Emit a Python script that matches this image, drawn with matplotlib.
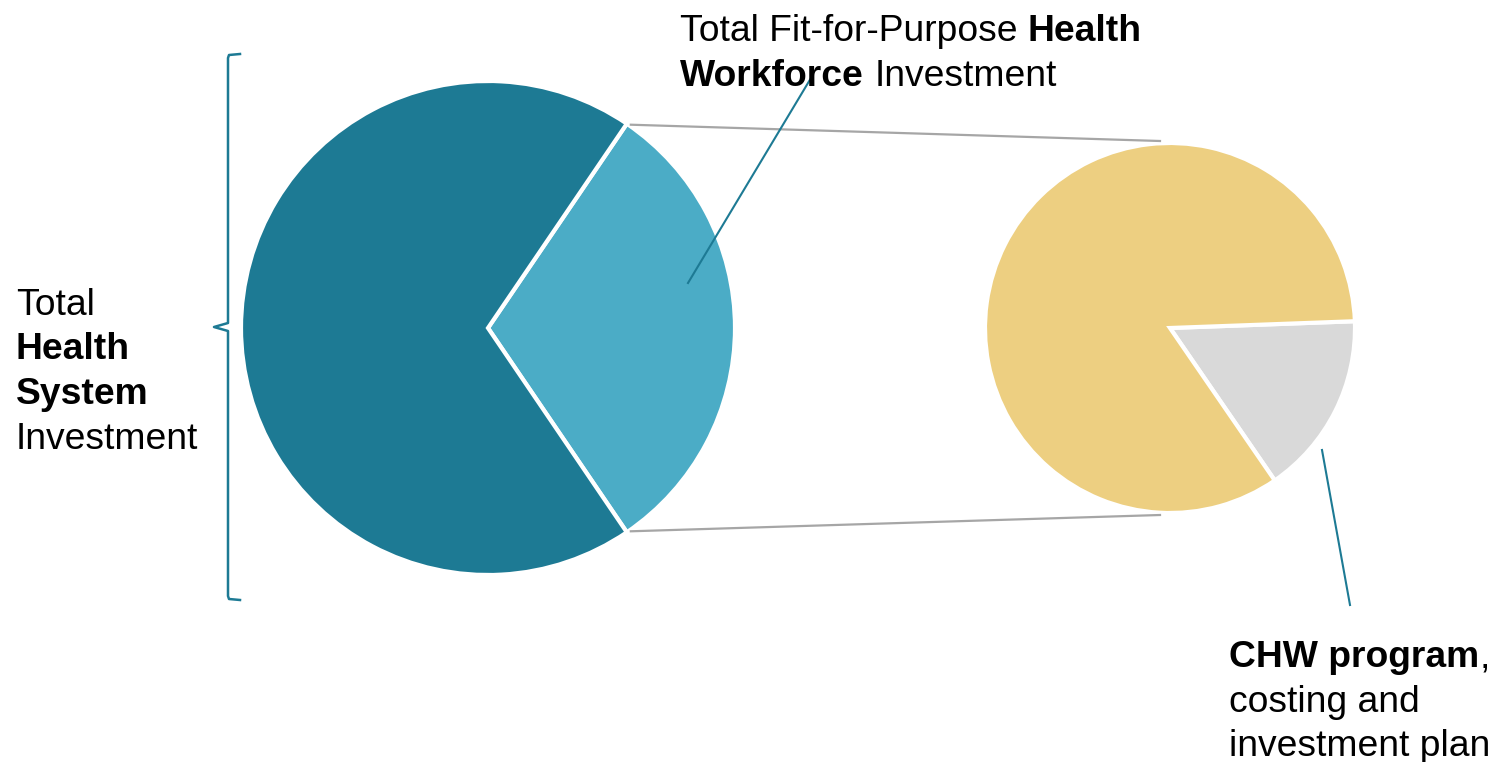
import numpy as np
import matplotlib
matplotlib.use("Agg")
from matplotlib import pyplot as plt

plt.rcParams["font.family"] = ["Liberation Sans", "DejaVu Sans"]

# Shares of total health system investment (%)
system_parts = ["Health Workforce", "Rest of Health System"]
system_shares = [31, 69]

# Shares within health workforce investment (%)
workforce_parts = ["CHW program", "Rest of Health Workforce"]
workforce_shares = [16, 84]

W, H = 1495, 762
TEAL = "#1D7A94"
LIGHT_TEAL = "#4BACC6"
GOLD = "#EDCF81"
GREY = "#D9D9D9"
FS = 26.8


def yy(y):
    # pixel rows counted from the top
    return H - y


fig = plt.figure(figsize=(W / 100, H / 100), dpi=100)
ax = fig.add_axes([0, 0, 1, 1])

big_c, big_r = (488, yy(328)), 247
small_c, small_r = (1170, yy(328)), 185

wedge_style = dict(edgecolor="white", linewidth=3)
big_start = -system_shares[0] / 100 * 180
big_wedges, _ = ax.pie(system_shares, colors=[LIGHT_TEAL, TEAL], startangle=big_start,
                       center=big_c, radius=big_r, wedgeprops=wedge_style)
small_wedges, _ = ax.pie(workforce_shares, colors=[GREY, GOLD], startangle=-55.5,
                         center=small_c, radius=small_r, wedgeprops=wedge_style)

ax.set_xlim(0, W)
ax.set_ylim(0, H)
ax.set_aspect("equal")
ax.axis("off")

# Zoom lines from the workforce slice to the second pie
a = np.deg2rad(-big_start)
cx = big_c[0] + big_r * np.cos(a) + 4
dy = big_r * np.sin(a)
ax.plot([cx, small_c[0] - 10], [big_c[1] + dy - 1, small_c[1] + small_r + 2], color="#A6A6A6", lw=1.6)
ax.plot([cx, small_c[0] - 10], [big_c[1] - dy + 1, small_c[1] - small_r - 2], color="#A6A6A6", lw=1.6)

# Callout lines
ax.plot([811, 688], [yy(78), yy(283)], color=TEAL, lw=1.5)
ax.plot([1322, 1350], [yy(450), yy(605)], color=TEAL, lw=1.5)

# Brace on the left
bx = [240, 229, 228, 228, 214, 228, 228, 229, 240]
by = [54, 55, 58, 323, 327, 331, 596, 599, 600]
ax.plot(bx, [yy(v) for v in by], color=TEAL, lw=1.8, solid_joinstyle="round")

renderer = fig.canvas.get_renderer()


def text_width(s, weight):
    t = ax.text(0, 0, s, fontsize=FS, fontweight=weight)
    w = t.get_window_extent(renderer).width
    t.remove()
    return w


space_w = text_width("a a", "normal") - text_width("aa", "normal")


def draw_line(x, y, runs):
    for i, (s, weight) in enumerate(runs):
        t = ax.text(x, yy(y), s, fontsize=FS, fontweight=weight, va="baseline", ha="left")
        x += t.get_window_extent(renderer).width
        if i < len(runs) - 1:
            x += space_w


draw_line(680, 41, [("Total Fit-for-Purpose", "normal"), ("Health", "bold")])
draw_line(680, 86, [("Workforce", "bold"), ("Investment", "normal")])

draw_line(16, 315, [("Total", "normal")])
draw_line(16, 359, [("Health", "bold")])
draw_line(16, 404, [("System", "bold")])
draw_line(16, 449, [("Investment", "normal")])

draw_line(1229, 667, [("CHW program", "bold")])
ax.text(1229 + text_width("CHW program", "bold"), yy(667), ",", fontsize=FS, va="baseline")
draw_line(1229, 712, [("costing and", "normal")])
draw_line(1229, 756, [("investment plan", "normal")])

fig.savefig("out.png", dpi=100, facecolor="white")
